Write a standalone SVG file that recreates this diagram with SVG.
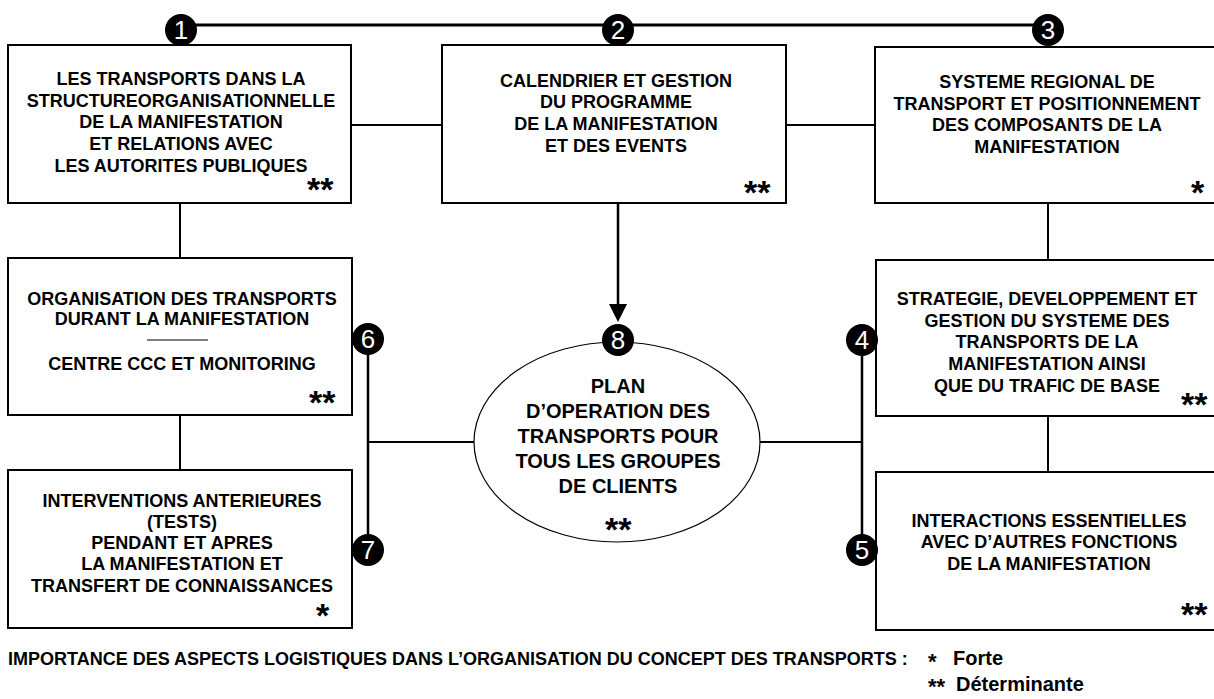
<svg xmlns="http://www.w3.org/2000/svg" width="1214" height="699" viewBox="0 0 1214 699">
<defs>
<style>
text{font-family:"Liberation Sans",Arial,sans-serif;fill:#000}
.t{font-size:18px;font-weight:bold;text-anchor:middle}
.e{font-size:20px;font-weight:bold;text-anchor:middle}
.s{font-size:34px;font-weight:bold}
.ls{font-size:22px;font-weight:bold}
.n{font-size:26px;fill:#fff;text-anchor:middle}
.box{fill:#fff;stroke:#000;stroke-width:2}
.c{stroke:#000;stroke-width:2;fill:none}
.dot{fill:#000}
.leg{font-size:18px;font-weight:bold}
.leg2{font-size:20px;font-weight:bold}
</style>
</defs>
<rect width="1214" height="699" fill="#fff"/>
<g id="connectors">
<line x1="181" y1="25" x2="1048" y2="25" stroke="#000" stroke-width="3"/>
<line class="c" x1="351" y1="125" x2="442" y2="125"/>
<line class="c" x1="786" y1="125" x2="875" y2="125"/>
<line class="c" x1="180" y1="203" x2="180" y2="258"/>
<line class="c" x1="180" y1="415" x2="180" y2="470"/>
<line class="c" x1="1048" y1="203" x2="1048" y2="260"/>
<line class="c" x1="1048" y1="416" x2="1048" y2="472"/>
<line x1="618" y1="203" x2="618" y2="305" stroke="#000" stroke-width="2.5"/>
<path d="M609,304 L627,304 L618,322 Z" fill="#000"/>
<line x1="368" y1="339" x2="368" y2="550" stroke="#000" stroke-width="2.5"/>
<line class="c" x1="368" y1="442" x2="474" y2="442"/>
<line x1="862" y1="340" x2="862" y2="550" stroke="#000" stroke-width="2.5"/>
<line class="c" x1="760" y1="442" x2="862" y2="442"/>
</g>
<g id="node1">
<rect class="box" x="8" y="45" width="343" height="158"/>
<text class="t" x="181" y="85">LES TRANSPORTS DANS LA</text>
<text class="t" x="181" y="107">STRUCTUREORGANISATIONNELLE</text>
<text class="t" x="181" y="128">DE LA MANIFESTATION</text>
<text class="t" x="181" y="150">ET RELATIONS AVEC</text>
<text class="t" x="181" y="172">LES AUTORITES PUBLIQUES</text>
<text class="s" x="307" y="201">**</text>
<circle class="dot" cx="181" cy="30" r="16"/>
<text class="n" x="181" y="39">1</text>
</g>
<g id="node2">
<rect class="box" x="442" y="45" width="344" height="158"/>
<text class="t" x="616" y="87">CALENDRIER ET GESTION</text>
<text class="t" x="616" y="108">DU PROGRAMME</text>
<text class="t" x="616" y="130">DE LA MANIFESTATION</text>
<text class="t" x="616" y="152">ET DES EVENTS</text>
<text class="s" x="744" y="204">**</text>
<circle class="dot" cx="618" cy="30" r="16"/>
<text class="n" x="618" y="39">2</text>
</g>
<g id="node3">
<rect class="box" x="875" y="47" width="345" height="156"/>
<text class="t" x="1047" y="88">SYSTEME REGIONAL DE</text>
<text class="t" x="1047" y="110">TRANSPORT ET POSITIONNEMENT</text>
<text class="t" x="1047" y="131">DES COMPOSANTS DE LA</text>
<text class="t" x="1047" y="153">MANIFESTATION</text>
<text class="s" x="1191" y="204">*</text>
<circle class="dot" cx="1048" cy="30" r="16"/>
<text class="n" x="1048" y="39">3</text>
</g>
<g id="node6">
<rect class="box" x="8" y="258" width="344" height="157"/>
<text class="t" x="182" y="305">ORGANISATION DES TRANSPORTS</text>
<text class="t" x="182" y="325">DURANT LA MANIFESTATION</text>
<line x1="147" y1="340" x2="208" y2="340" stroke="#000" stroke-width="1"/>
<text class="t" x="182" y="370">CENTRE CCC ET MONITORING</text>
<text class="s" x="309" y="414">**</text>
<circle class="dot" cx="368" cy="339" r="16"/>
<text class="n" x="368" y="348">6</text>
</g>
<g id="node7">
<rect class="box" x="8" y="470" width="344" height="158"/>
<text class="t" x="182" y="507">INTERVENTIONS ANTERIEURES</text>
<text class="t" x="182" y="528">(TESTS)</text>
<text class="t" x="182" y="549">PENDANT ET APRES</text>
<text class="t" x="182" y="570">LA MANIFESTATION ET</text>
<text class="t" x="182" y="592">TRANSFERT DE CONNAISSANCES</text>
<text class="s" x="316" y="627">*</text>
<circle class="dot" cx="368" cy="550" r="16"/>
<text class="n" x="368" y="559">7</text>
</g>
<g id="node8">
<ellipse cx="617" cy="442" rx="143" ry="100" fill="#fff" stroke="#000" stroke-width="1.2"/>
<text class="e" x="618" y="393">PLAN</text>
<text class="e" x="618" y="418">D’OPERATION DES</text>
<text class="e" x="618" y="443">TRANSPORTS POUR</text>
<text class="e" x="618" y="468">TOUS LES GROUPES</text>
<text class="e" x="618" y="493">DE CLIENTS</text>
<text class="s" x="605" y="541">**</text>
<circle class="dot" cx="618" cy="340" r="16"/>
<text class="n" x="618" y="349">8</text>
</g>
<g id="node4">
<rect class="box" x="876" y="260" width="344" height="156"/>
<text class="t" x="1047" y="305">STRATEGIE, DEVELOPPEMENT ET</text>
<text class="t" x="1047" y="327">GESTION DU SYSTEME DES</text>
<text class="t" x="1047" y="348">TRANSPORTS DE LA</text>
<text class="t" x="1047" y="370">MANIFESTATION AINSI</text>
<text class="t" x="1047" y="392">QUE DU TRAFIC DE BASE</text>
<text class="s" x="1181" y="416">**</text>
<circle class="dot" cx="862" cy="340" r="16"/>
<text class="n" x="862" y="349">4</text>
</g>
<g id="node5">
<rect class="box" x="876" y="472" width="344" height="158"/>
<text class="t" x="1049" y="527">INTERACTIONS ESSENTIELLES</text>
<text class="t" x="1049" y="548">AVEC D’AUTRES FONCTIONS</text>
<text class="t" x="1049" y="570">DE LA MANIFESTATION</text>
<text class="s" x="1181" y="626">**</text>
<circle class="dot" cx="862" cy="550" r="16"/>
<text class="n" x="862" y="559">5</text>
</g>
<g id="legend">
<text class="leg" x="8" y="665">IMPORTANCE DES ASPECTS LOGISTIQUES DANS L’ORGANISATION DU CONCEPT DES TRANSPORTS :</text>
<text class="ls" x="928" y="669">*</text>
<text class="leg2" x="953" y="665">Forte</text>
<text class="ls" x="928" y="694">**</text>
<text class="leg2" x="956" y="691">Déterminante</text>
</g>
</svg>
